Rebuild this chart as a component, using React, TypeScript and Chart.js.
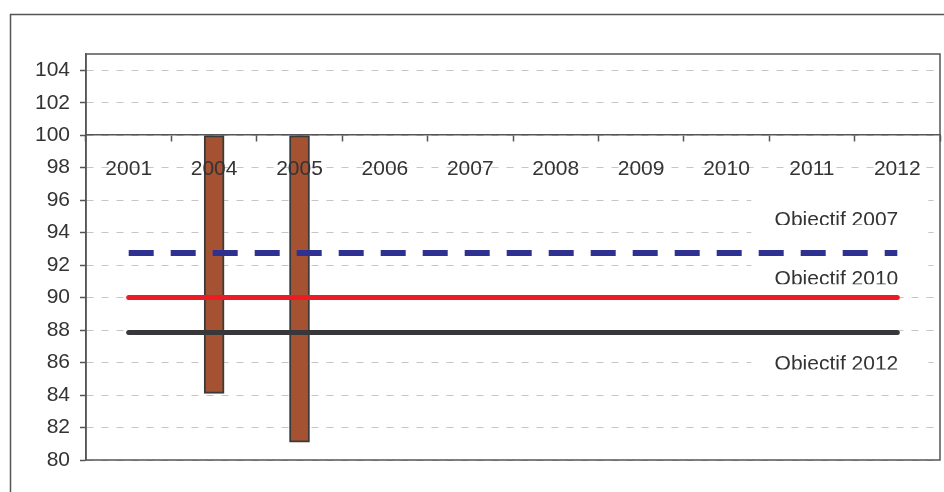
import { useEffect, useRef } from "react";
import { Chart, registerables } from "chart.js";

Chart.register(...registerables);

// Categories along the axis that crosses at 100
const years = ["2001", "2004", "2005", "2006", "2007", "2008", "2009", "2010", "2011", "2012"];

// Measured indicator (bars hang from 100 down to the value)
const indicator = [null, 84.1, 81.1, null, null, null, null, null, null, null];

// Objective levels
const objectif2007 = [92.75, 92.75, 92.75, 92.75, 92.75, 92.75, 92.75, 92.75, 92.75, 92.75];
const objectif2010 = [90, 90, 90, 90, 90, 90, 90, 90, 90, 90];
const objectif2012 = [87.85, 87.85, 87.85, 87.85, 87.85, 87.85, 87.85, 87.85, 87.85, 87.85];

// Value axis
const yMin = 80;
const yMax = 105;
const yStep = 2;
const axisCross = 100;

// Objective captions: text, top of its white box and text baseline (value units)
const captionTexts = ["Objectif 2007", "Objectif 2010", "Objectif 2012"];
const captionTops = [96.3, 94.47, 87.1];
const captionBaselines = [94.47, 90.82, 85.58];

const FONT = "'Liberation Sans', Arial, sans-serif";
const TEXT = "#333333";
const AXIS = "#555555";

const framePlugin = {
  id: "frames",
  beforeDraw(chart: any) {
    const { ctx } = chart;
    ctx.save();
    ctx.fillStyle = "#ffffff";
    ctx.fillRect(0, 0, chart.width, chart.height);
    ctx.strokeStyle = AXIS;
    ctx.lineWidth = 1.5;
    ctx.strokeRect(10.5, 14.5, chart.width + 20, chart.height + 20);
    ctx.restore();
  },
  beforeDatasetsDraw(chart: any) {
    const { ctx, scales } = chart;
    const x = scales.x;
    const y = scales.y;
    const lastX = x.getPixelForValue(years.length - 1);
    const left = lastX - 146;
    const right = lastX + 31;
    ctx.save();
    captionTexts.forEach((text, i) => {
      const top = y.getPixelForValue(captionTops[i]);
      const base = y.getPixelForValue(captionBaselines[i]);
      ctx.fillStyle = "#ffffff";
      ctx.fillRect(left, top, right - left, base - top);
      ctx.save();
      ctx.beginPath();
      ctx.rect(left, top, right - left, base - top);
      ctx.clip();
      ctx.fillStyle = TEXT;
      ctx.font = `21px ${FONT}`;
      ctx.textAlign = "right";
      ctx.textBaseline = "alphabetic";
      ctx.fillText(text, lastX + 1, base + 0.5);
      ctx.restore();
    });
    ctx.restore();
  },
  afterDatasetsDraw(chart: any) {
    const { ctx, chartArea } = chart;
    ctx.save();
    ctx.strokeStyle = AXIS;
    ctx.lineWidth = 1.5;
    ctx.strokeRect(chartArea.left, chartArea.top, chartArea.right - chartArea.left, chartArea.bottom - chartArea.top);
    ctx.restore();
  },
};

export default function App() {
  const canvasRef = useRef<HTMLCanvasElement | null>(null);

  useEffect(() => {
    const canvas = canvasRef.current;
    if (!canvas) return;
    const chart = new Chart(canvas, {
      type: "bar",
      data: {
        labels: years,
        datasets: [
          {
            type: "line",
            label: "Objectif 2007",
            data: objectif2007,
            borderColor: "#2e3192",
            borderWidth: 6,
            borderDash: [25, 17],
            borderCapStyle: "butt",
            pointRadius: 0,
            fill: false,
            order: 1,
          },
          {
            type: "line",
            label: "Objectif 2010",
            data: objectif2010,
            borderColor: "#ed1c24",
            borderWidth: 5,
            borderCapStyle: "round",
            pointRadius: 0,
            fill: false,
            order: 1,
          },
          {
            type: "line",
            label: "Objectif 2012",
            data: objectif2012,
            borderColor: "#38383b",
            borderWidth: 5,
            borderCapStyle: "round",
            pointRadius: 0,
            fill: false,
            order: 1,
          },
          {
            type: "bar",
            label: "Indicateur",
            data: indicator,
            base: axisCross,
            backgroundColor: "#a55233",
            borderColor: "#3a3a3a",
            borderWidth: 2,
            borderSkipped: false,
            barThickness: 20,
            order: 2,
          },
        ],
      } as any,
      options: {
        animation: false,
        responsive: false,
        maintainAspectRatio: false,
        layout: { padding: { left: 0, top: 54, right: 4, bottom: 32 } },
        plugins: {
          legend: { display: false },
          tooltip: { enabled: false },
          title: { display: false },
        },
        scales: {
          x: {
            type: "category",
            position: { y: axisCross } as any,
            offset: true,
            grid: {
              offset: true,
              drawOnChartArea: false,
              drawTicks: true,
              tickLength: 6,
              tickColor: AXIS,
              tickWidth: 1.5,
              z: 1,
            },
            border: { display: true, color: AXIS, width: 1.5, z: 1 },
            ticks: {
              color: TEXT,
              font: { family: FONT, size: 21 },
              padding: 15,
              maxRotation: 0,
              autoSkip: false,
              z: 1,
            },
            afterFit(scale: any) {
              scale.height = 0;
            },
          },
          y: {
            type: "linear",
            min: yMin,
            max: yMax,
            grid: {
              color: "#cdc4c1",
              lineWidth: 1,
              drawTicks: true,
              tickLength: 6,
              tickColor: AXIS,
              tickWidth: 1.5,
              tickBorderDash: [],
            },
            border: { display: true, color: AXIS, width: 1.5, dash: [7, 8] },
            ticks: {
              stepSize: yStep,
              includeBounds: false,
              color: TEXT,
              font: { family: FONT, size: 21 },
              padding: 10,
            },
            afterFit(scale: any) {
              scale.width = 86;
            },
          },
        },
      } as any,
      plugins: [framePlugin],
    });
    return () => chart.destroy();
  }, []);

  return (
    <div style={{ position: "fixed", left: 0, top: 0, width: 944, height: 492, background: "#fff" }}>
      <canvas ref={canvasRef} width={944} height={492} style={{ display: "block" }} />
    </div>
  );
}
